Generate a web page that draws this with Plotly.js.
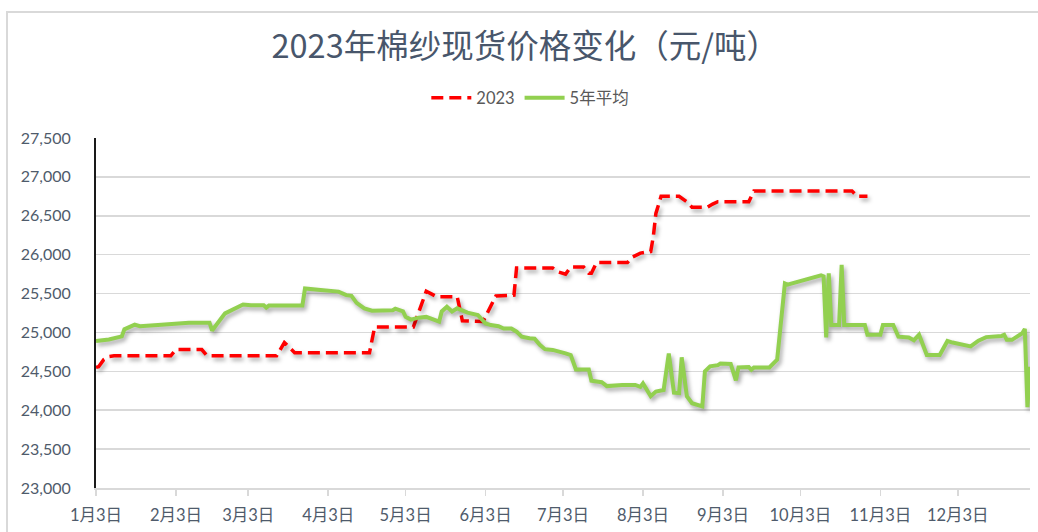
<!DOCTYPE html>
<html>
<head>
<meta charset="utf-8">
<script src="https://cdn.plot.ly/plotly-3.0.1.min.js"></script>
<style>
  html, body { margin: 0; padding: 0; background: #fff; }
  #wrap { position: relative; width: 1038px; height: 532px; }
  #chart { position: absolute; left: 0; top: 0; width: 1038px; height: 532px; }
  #frame { position: absolute; left: 6px; top: 11px; width: 1040px; height: 530px;
           border-left: 2px solid #d9d9d9; border-top: 2px solid #d9d9d9; pointer-events: none; }
  .scatterlayer .js-line { filter: drop-shadow(2px 3px 2px rgba(0,0,0,0.35)); }
</style>
</head>
<body>
<div id="wrap">
  <div id="chart"></div>
  <div id="frame"></div>
</div>
<script>
// ---- data ----
const dates2023 = [
  "2023-01-03","2023-01-04","2023-01-06","2023-01-08","2023-01-10","2023-02-01","2023-02-03",
  "2023-02-13","2023-02-15","2023-03-14","2023-03-17","2023-03-19","2023-03-21","2023-04-19",
  "2023-04-21","2023-05-06","2023-05-11","2023-05-15","2023-05-23","2023-05-25","2023-06-02",
  "2023-06-07","2023-06-14","2023-06-15","2023-06-29","2023-07-01","2023-07-04","2023-07-06",
  "2023-07-11","2023-07-13","2023-07-14","2023-07-16","2023-07-28","2023-07-30","2023-08-02",
  "2023-08-06","2023-08-07","2023-08-08","2023-08-10","2023-08-17","2023-08-20","2023-08-22",
  "2023-08-28","2023-08-30","2023-09-01","2023-09-13","2023-09-15","2023-10-23","2023-10-25",
  "2023-10-29"
];
const values2023 = [
  24550,24560,24650,24690,24700,24700,24780,
  24780,24700,24700,24870,24800,24740,24740,
  25070,25070,25530,25460,25460,25150,25140,
  25470,25480,25830,25830,25780,25750,25840,
  25840,25760,25760,25900,25900,25970,26020,
  26040,26230,26530,26750,26750,26680,26610,
  26610,26650,26680,26680,26820,26820,26750,
  26750
];

const datesAvg = [
  "2023-01-03","2023-01-08","2023-01-13","2023-01-14","2023-01-18","2023-01-20","2023-01-27",
  "2023-02-03","2023-02-08","2023-02-16","2023-02-17","2023-02-22","2023-02-25","2023-03-01",
  "2023-03-04","2023-03-09","2023-03-10","2023-03-11","2023-03-24","2023-03-25","2023-03-31",
  "2023-04-07","2023-04-10","2023-04-12","2023-04-14","2023-04-17","2023-04-20","2023-04-28",
  "2023-04-29","2023-05-02","2023-05-03","2023-05-05","2023-05-08","2023-05-11","2023-05-16",
  "2023-05-17","2023-05-19","2023-05-21","2023-05-23","2023-05-27","2023-05-31","2023-06-03",
  "2023-06-05","2023-06-08","2023-06-10","2023-06-13","2023-06-15","2023-06-17","2023-06-20",
  "2023-06-22","2023-06-24","2023-06-26","2023-06-29","2023-07-02","2023-07-04","2023-07-06",
  "2023-07-08","2023-07-13","2023-07-14","2023-07-18","2023-07-20","2023-07-26","2023-07-31",
  "2023-08-02","2023-08-03","2023-08-06","2023-08-08","2023-08-11","2023-08-13","2023-08-15",
  "2023-08-17","2023-08-18","2023-08-20","2023-08-22","2023-08-25","2023-08-26","2023-08-27",
  "2023-08-29","2023-09-01","2023-09-02","2023-09-06","2023-09-08","2023-09-09","2023-09-13",
  "2023-09-14","2023-09-15","2023-09-21","2023-09-22","2023-09-24","2023-09-27","2023-09-28",
  "2023-10-11","2023-10-12","2023-10-13","2023-10-14","2023-10-15","2023-10-18","2023-10-19",
  "2023-10-20","2023-10-28","2023-10-29","2023-11-03","2023-11-04","2023-11-08","2023-11-10",
  "2023-11-14","2023-11-16","2023-11-18","2023-11-21","2023-11-26","2023-11-29","2023-12-01",
  "2023-12-08","2023-12-11","2023-12-14","2023-12-20","2023-12-21","2023-12-22","2023-12-24",
  "2023-12-28","2023-12-29","2023-12-30","2023-12-31"
];
const valuesAvg = [
  24890,24910,24950,25040,25100,25080,25095,
  25110,25125,25125,25025,25245,25290,25360,
  25350,25350,25320,25345,25345,25565,25545,
  25525,25480,25470,25380,25310,25280,25285,
  25305,25270,25200,25165,25190,25200,25140,
  25270,25330,25270,25310,25255,25225,25115,
  25095,25080,25050,25050,25010,24945,24925,
  24920,24840,24785,24775,24740,24730,24710,
  24525,24525,24380,24360,24310,24325,24325,
  24300,24345,24180,24240,24260,24730,24225,
  24220,24680,24180,24090,24050,24050,24500,
  24565,24580,24600,24595,24385,24550,24555,
  24520,24550,24550,24585,24650,25630,25615,
  25735,25720,24935,25760,25095,25095,25870,
  25095,25095,24970,24970,25095,25095,24945,
  24935,24900,24970,24710,24710,24890,24870,
  24820,24895,24940,24955,24970,24905,24905,
  24990,25045,24040,24560
];

const tickDates = ["2023-01-03","2023-02-03","2023-03-03","2023-04-03","2023-05-03","2023-06-03",
                   "2023-07-03","2023-08-03","2023-09-03","2023-10-03","2023-11-03","2023-12-03"];
const tickLabels = ["1月3日","2月3日","3月3日","4月3日","5月3日","6月3日",
                    "7月3日","8月3日","9月3日","10月3日","11月3日","12月3日"];
const seriesNames = ["2023", "5年平均"];
const chartTitle = "2023年棉纱现货价格变化（元/吨）";

const FONT = "Lato, 'Noto Sans CJK SC', sans-serif";
const TXT = "#4F5B6B";

const traces = [
  {
    x: dates2023, y: values2023, name: seriesNames[0], type: "scatter", mode: "lines",
    line: { color: "#FF0000", width: 3.5, dash: "12px,6px" }
  },
  {
    x: datesAvg, y: valuesAvg, name: seriesNames[1], type: "scatter", mode: "lines",
    line: { color: "#92D050", width: 4 }
  }
];

const layout = {
  width: 1038, height: 532,
  margin: { l: 96, r: 8, t: 138, b: 44 },
  paper_bgcolor: "rgba(0,0,0,0)", plot_bgcolor: "#fff",
  font: { family: FONT, color: TXT, size: 15 },
  title: {
    text: chartTitle, xref: "container", x: 0.506, xanchor: "center",
    yref: "container", y: 0.912, yanchor: "middle",
    font: { family: "'Noto Sans CJK SC', sans-serif", size: 32.5, color: "#48566B" }
  },
  showlegend: true,
  legend: {
    orientation: "h", x: 0.465, xanchor: "center", y: 1.114, yanchor: "middle",
    font: { family: FONT, size: 16.5, color: "#595959" }, bgcolor: "rgba(0,0,0,0)",
    itemwidth: 40
  },
  xaxis: {
    type: "date", range: ["2023-01-03", "2023-12-31"],
    tickmode: "array", tickvals: tickDates, ticktext: tickLabels,
    showgrid: false, showline: true, linecolor: "#d9d9d9", linewidth: 1.5,
    ticks: "outside", ticklen: 6, tickcolor: "#d9d9d9", tickwidth: 1.5,
    ticklabelstandoff: 6,
    tickfont: { family: FONT, size: 16.5, color: TXT },
    zeroline: false, fixedrange: true
  },
  yaxis: {
    range: [23000, 27500], dtick: 500, tick0: 23000, tickformat: ",d",
    showgrid: true, gridcolor: "#d9d9d9", gridwidth: 1.5,
    showline: true, linecolor: "#1a1a1a", linewidth: 2,
    ticks: "", ticklabelstandoff: 20,
    tickfont: { family: FONT, size: 16, color: TXT },
    zeroline: false, fixedrange: true
  }
};

Plotly.newPlot("chart", traces, layout, { displayModeBar: false, staticPlot: true });
</script>
</body>
</html>
